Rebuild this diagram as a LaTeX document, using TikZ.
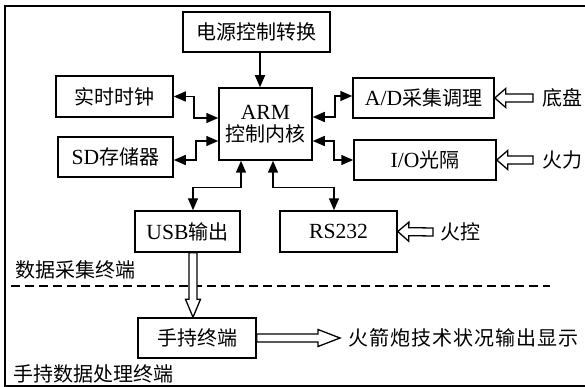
\documentclass[tikz,border=0pt]{standalone}
\usepackage{fontspec}
\setmainfont{Liberation Serif}[Scale=1.08]
\newfontfamily\cjk{Noto Sans CJK SC}
\newfontfamily\cjkw[LetterSpace=5]{Noto Sans CJK SC}
\usetikzlibrary{arrows.meta,calc}
\newcommand{\hollowarrow}[4]{%
 \draw[harrow] let \p1=#1, \p2=#2, \n1={atan2(\y2-\y1,\x2-\x1)}, \n2={veclen(\x2-\x1,\y2-\y1)} in
 (\p1) -- ++({\n1+90}:4pt) -- ++({\n1}:{(\n2-#3)*1pt}) -- ++({\n1+90}:{(#4-4)*1pt}) -- (\p2)
 -- ++({\n1+180+atan2(#4,#3)}:{veclen(#3,#4)*1pt}) -- ++({\n1+90}:{(#4-4)*1pt})
 -- ++({\n1+180}:{(\n2-#3)*1pt}) -- ++({\n1+90}:4pt);}
\begin{document}
\begin{tikzpicture}[x=1pt,y=-1pt,
  font=\fontsize{20}{24}\selectfont,
  box/.style={draw,line width=1.5pt,inner sep=0pt,align=center},
  lbl/.style={inner sep=0pt,anchor=west},
  arr/.style={line width=1.5pt,-{Triangle[length=12pt,width=10pt]}},
  arr2/.style={line width=1.5pt,{Triangle[length=12pt,width=10pt]}-{Triangle[length=12pt,width=10pt]}},
  harrow/.style={line width=1.3pt,fill=white,line join=miter}]
\useasboundingbox (0,0) rectangle (585,387);
\draw[line width=1.5pt] (590,6) -- (5,6) -- (5,386) -- (590,386);
% boxes
\node[box,minimum width=147pt,minimum height=40pt] (pwr) at (256.5,32) {\cjk 电源控制转换};
\node[box,minimum width=117pt,minimum height=41pt] (rtc) at (114.5,96.5) {\cjk 实时时钟};
\node[box,minimum width=115pt,minimum height=40pt] (sd) at (115.5,157) {SD{\cjk 存储器}};
\node[box,minimum width=93pt,minimum height=72pt] (arm) at (265.5,124) {ARM\\[-2pt]{\cjk 控制内核}};
\node[box,minimum width=141pt,minimum height=40pt] (ad) at (423.5,98) {A/D{\cjk 采集调理}};
\node[box,minimum width=142pt,minimum height=40pt] (io) at (425,160) {I/O{\cjk 光隔}};
\node[box,minimum width=105pt,minimum height=41pt] (usb) at (187.5,231.5) {USB{\cjk 输出}};
\node[box,minimum width=117pt,minimum height=41pt] (rs) at (338.5,231.5) {RS232};
\node[box,minimum width=118pt,minimum height=40pt] (hand) at (197,338) {\cjk 手持终端};
% labels
\node[lbl] (dipan) at (542,98) {\cjk 底盘};
\node[lbl] (huoli) at (542,160) {\cjk 火力};
\node[lbl] (huokong) at (440,232) {\cjk 火控};
\node[lbl] (out) at (348,338) {\cjkw 火箭炮技术状况输出显示};
\node[lbl] (term1) at (15,270) {\cjk 数据采集终端};
\node[lbl] (term2) at (13,374) {\cjk 手持数据处理终端};
% dashed separator
\coordinate (dl) at (11,286);
\coordinate (dr) at (550,286);
\draw[line width=1.5pt,dash pattern=on 9pt off 5pt] (dl) -- (dr);
% solid connectors
\draw[arr] ([xshift=3.5pt]pwr.south) -- ([xshift=3.5pt]pwr.south |- arm.north);
\draw[arr2] (rtc.east) -- ++(20,0) |- ([yshift=6pt]arm.west);
\draw[arr2] ([yshift=-3pt]sd.east) -- ++(22,0) |- ([yshift=-17pt]arm.west);
\draw[arr2] ([yshift=7pt]arm.east) -- ++(22,0) |- ([yshift=2pt]ad.west);
\draw[arr2] ([yshift=-17pt]arm.east) -- ++(21,0) |- (io.west);
\draw[arr2] ([xshift=-24.5pt]arm.south) -- ++(0,27) -| ([xshift=5.5pt]usb.north);
\draw[arr2] ([xshift=7.5pt]arm.south) -- ++(0,27) -| ([xshift=-4.5pt]rs.north);
% hollow arrows
\hollowarrow{([xshift=-9pt]dipan.west)}{(ad.east)}{11}{9.5}
\hollowarrow{([xshift=-9pt]huoli.west)}{(io.east)}{11}{9.5}
\hollowarrow{([xshift=-7pt]huokong.west)}{(rs.east)}{11}{9.5}
\hollowarrow{([xshift=5.5pt]usb.south)}{([xshift=-4pt]hand.north)}{18}{7.5}
\hollowarrow{(hand.east)}{([xshift=-8pt]out.west)}{22}{8.5}
\end{tikzpicture}
\end{document}
